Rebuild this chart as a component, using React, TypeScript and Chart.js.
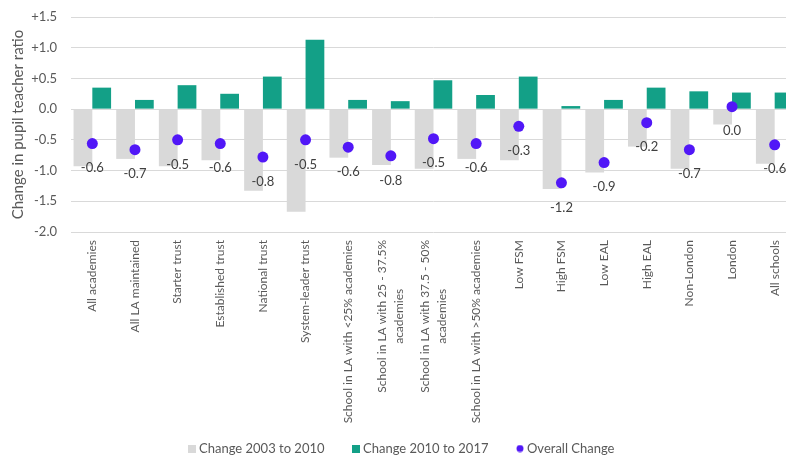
import React, { useEffect, useRef } from "react";
import { Chart, registerables } from "chart.js";

Chart.register(...registerables);

const categories: (string | string[])[] = [
  "All academies",
  "All LA maintained",
  "Starter trust",
  "Established trust",
  "National trust",
  "System-leader trust",
  "School in LA with <25% academies",
  ["School in LA with 25 - 37.5%", "academies"],
  ["School in LA with 37.5 - 50%", "academies"],
  "School in LA with >50% academies",
  "Low FSM",
  "High FSM",
  "Low EAL",
  "High EAL",
  "Non-London",
  "London",
  "All schools",
];

const change2003to2010 = [-0.93, -0.81, -0.93, -0.83, -1.33, -1.67, -0.79, -0.91, -0.97, -0.81, -0.83, -1.3, -1.03, -0.61, -0.97, -0.25, -0.89];
const change2010to2017 = [0.35, 0.15, 0.39, 0.25, 0.53, 1.13, 0.15, 0.13, 0.47, 0.23, 0.53, 0.05, 0.15, 0.35, 0.29, 0.27, 0.27];
const overallChange = [-0.56, -0.66, -0.5, -0.56, -0.78, -0.5, -0.62, -0.76, -0.48, -0.56, -0.28, -1.2, -0.87, -0.22, -0.66, 0.04, -0.58];

const seriesNames = ["Change 2003 to 2010", "Change 2010 to 2017", "Overall Change"];
const yTickValues = [-2.0, -1.5, -1.0, -0.5, 0.0, 0.5, 1.0, 1.5];

const GREY = "#D9D9D9";
const GREEN = "#13A087";
const PURPLE = "#5117F7";
const TEXT = "#595959";
const FONT = "Lato, 'Open Sans', sans-serif";

const CANVAS_W = 806;
const CANVAS_H = 465;
const PAD_TOP = 17;
const PLOT_BOTTOM = 232;
const PLOT_LEFT = 71;
const LEG_FONT = 13;
const LEG_PAD = 31;
const LEG_SHIFT = 5;

function makeIcon(color: string, circle: boolean): HTMLCanvasElement {
  const c = document.createElement("canvas");
  c.width = 8;
  c.height = 8;
  const ctx = c.getContext("2d")!;
  ctx.fillStyle = color;
  if (circle) {
    ctx.beginPath();
    ctx.arc(4, 4, 3.5, 0, Math.PI * 2);
    ctx.fill();
  } else {
    ctx.fillRect(0, 0, 8, 8);
  }
  return c;
}

const dataLabelPlugin = {
  id: "dataLabels",
  afterDatasetsDraw(chart: any) {
    const meta = chart.getDatasetMeta(2);
    const ctx = chart.ctx;
    ctx.save();
    ctx.font = `13px ${FONT}`;
    ctx.fillStyle = "#404040";
    ctx.textAlign = "center";
    ctx.textBaseline = "middle";
    meta.data.forEach((pt: any, i: number) => {
      const v = overallChange[i];
      ctx.fillText(v.toFixed(1), pt.x, pt.y + 24.5);
    });
    ctx.restore();
  },
};

const xLabelPlugin = {
  id: "xLabels",
  afterDraw(chart: any) {
    const xs = chart.scales.x;
    const ctx = chart.ctx;
    ctx.save();
    ctx.font = `12px ${FONT}`;
    ctx.fillStyle = TEXT;
    ctx.textBaseline = "middle";
    ctx.textAlign = "center";
    const lineH = 16.5;
    const topY = chart.chartArea.bottom + 8;
    categories.forEach((cat, i) => {
      const lines = Array.isArray(cat) ? cat : [cat];
      const x = xs.getPixelForValue(i);
      const maxW = Math.max(...lines.map((l) => ctx.measureText(l).width));
      lines.forEach((line, j) => {
        const off = (j - (lines.length - 1) / 2) * lineH;
        ctx.save();
        ctx.translate(x + off, topY + maxW / 2);
        ctx.rotate(-Math.PI / 2);
        ctx.fillText(line, 0, 0);
        ctx.restore();
      });
    });
    ctx.restore();
  },
};

const legendShiftPlugin = {
  id: "legendShift",
  afterLayout(chart: any) {
    if (chart.legend) {
      chart.legend.left += LEG_SHIFT;
      chart.legend.right += LEG_SHIFT;
    }
  },
};

export default function App() {
  const canvasRef = useRef<HTMLCanvasElement | null>(null);

  useEffect(() => {
    const canvas = canvasRef.current;
    if (!canvas) return;
    const icons = [makeIcon(GREY, false), makeIcon(GREEN, false), makeIcon(PURPLE, true)];
    const chart = new Chart(canvas, {
      type: "bar",
      data: {
        labels: categories as any,
        datasets: [
          {
            type: "bar",
            label: seriesNames[0],
            data: change2003to2010,
            backgroundColor: GREY,
            categoryPercentage: 0.88,
            barPercentage: 1.0,
            order: 1,
          },
          {
            type: "bar",
            label: seriesNames[1],
            data: change2010to2017,
            backgroundColor: GREEN,
            categoryPercentage: 0.88,
            barPercentage: 1.0,
            order: 1,
          },
          {
            type: "line",
            label: seriesNames[2],
            data: overallChange,
            showLine: false,
            pointRadius: 5.5,
            pointHoverRadius: 5.5,
            pointBackgroundColor: PURPLE,
            pointBorderWidth: 0,
            backgroundColor: PURPLE,
            borderColor: PURPLE,
            order: 0,
          } as any,
        ],
      },
      options: {
        responsive: false,
        animation: false,
        devicePixelRatio: 1,
        layout: { padding: { top: PAD_TOP, right: 10, left: 0, bottom: 0 } },
        plugins: {
          tooltip: { enabled: false },
          legend: {
            position: "bottom",
            labels: {
              usePointStyle: true,
              boxWidth: 1,
              boxHeight: 8,
              padding: LEG_PAD,
              color: TEXT,
              font: { family: FONT, size: LEG_FONT },
              sort: (a: any, b: any) => a.datasetIndex - b.datasetIndex,
              generateLabels(chart: any) {
                const items = Chart.defaults.plugins.legend.labels.generateLabels(chart);
                return items.map((it: any) => ({ ...it, pointStyle: icons[it.datasetIndex] }));
              },
            },
          },
        },
        scales: {
          x: {
            type: "category",
            grid: { display: false },
            border: { display: false },
            ticks: { display: false },
            afterFit(scale: any) {
              scale.height = CANVAS_H - (LEG_FONT + LEG_PAD + 10) - PLOT_BOTTOM;
            },
          },
          y: {
            min: -2,
            max: 1.5,
            afterBuildTicks(scale: any) {
              scale.ticks = yTickValues.map((v) => ({ value: v }));
            },
            grid: { color: GREY, lineWidth: 1, drawTicks: false },
            border: { display: false },
            ticks: {
              padding: 14,
              color: TEXT,
              font: { family: FONT, size: 13 },
              callback: (v: any) => (Number(v) > 0 ? "+" + Number(v).toFixed(1) : Number(v).toFixed(1)),
            },
            title: {
              display: true,
              text: "Change in pupil teacher ratio",
              color: TEXT,
              font: { family: FONT, size: 15 },
              padding: { top: 9, bottom: 0 },
            },
            afterFit(scale: any) {
              scale.width = PLOT_LEFT;
              scale.paddingTop = 0;
              scale.paddingBottom = 0;
            },
          },
        },
      },
      plugins: [dataLabelPlugin, xLabelPlugin, legendShiftPlugin],
    });
    return () => chart.destroy();
  }, []);

  return (
    <div
      style={{
        position: "absolute",
        left: 0,
        top: 0,
        width: 786,
        height: 458,
        overflow: "hidden",
        background: "#ffffff",
      }}
    >
      <canvas ref={canvasRef} width={CANVAS_W} height={CANVAS_H} style={{ display: "block" }} />
    </div>
  );
}
